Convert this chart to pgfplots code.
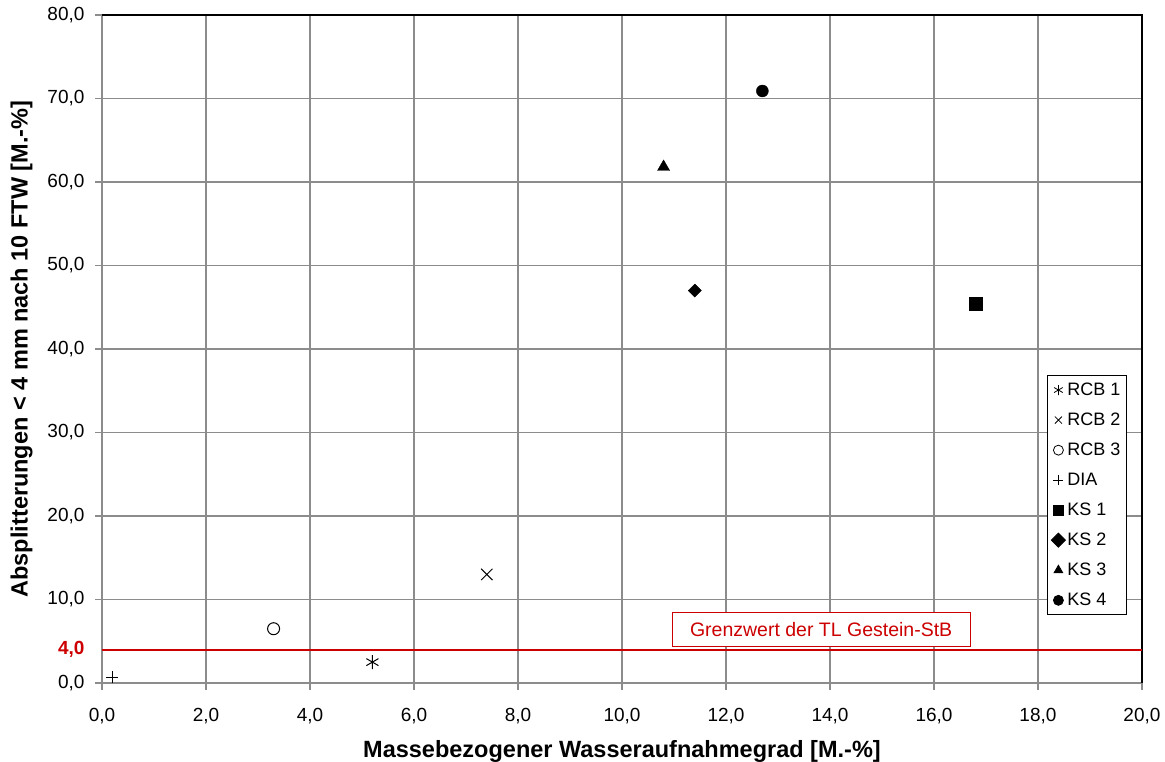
\documentclass[border=0pt]{standalone}
\usepackage{pgfplots}
\pgfplotsset{compat=1.18}
\usepackage{fontspec}
\setmainfont{Liberation Sans}
\definecolor{gridgray}{RGB}{140,140,140}
\definecolor{limred}{RGB}{204,0,0}
\begin{document}
\begin{tikzpicture}
\begin{axis}[
  at={(0pt,0pt)}, anchor=origin,
  scale only axis, width=1040pt, height=668pt,
  xmin=0, xmax=20, ymin=0, ymax=80,
  xtick={0,2,...,20}, ytick={0,10,...,80},
  grid=major, major grid style={gridgray, line width=1.2pt},
  axis line style={gridgray, line width=1.4pt},
  tick style={gridgray, line width=1.2pt},
  tick align=outside, major tick length=7pt,
  xtick pos=bottom, ytick pos=left,
  /pgf/number format/assume math mode=true,
  /pgf/number format/.cd, fixed, fixed zerofill, precision=1, use comma, /pgfplots/.cd,
  tick label style={font=\fontsize{19}{22}\selectfont},
  xticklabel style={yshift=-15pt},
  yticklabel style={xshift=-7pt},
  xlabel={\bfseries Massebezogener Wasseraufnahmegrad [M.-\%]},
  ylabel={\bfseries Absplitterungen < 4 mm nach 10 FTW [M.-\%]},
  label style={font=\fontsize{23.5}{27}\selectfont},
  xlabel style={yshift=-9pt},
  ylabel style={yshift=-6pt},
  extra y ticks={4}, extra y tick labels={\bfseries 4{,}0},
  extra y tick style={grid=none, tick style={draw=none}, yticklabel style={text=limred}},
  legend style={at={(0.9856,0.102)}, anchor=south east, draw=black, line width=1pt,
    font=\fontsize{18}{21}\selectfont, row sep=12pt, inner xsep=4pt, inner ysep=5pt},
  legend cell align=left,
  legend image post style={line width=0.8pt, mark size=5pt},
  clip=false,
]
\draw[black, line width=1.4pt] (rel axis cs:0,1) -- (rel axis cs:1,1) -- (rel axis cs:1,0);
\addplot[only marks, mark=asterisk, mark size=7pt, line width=1pt, black] coordinates {(5.2,2.5)};
\addlegendentry{RCB 1}
\addplot[only marks, mark=x, mark size=8pt, line width=1pt, black] coordinates {(7.4,13.0)};
\addlegendentry{RCB 2}
\addplot[only marks, mark=o, mark size=6pt, line width=1pt, black] coordinates {(3.3,6.5)};
\addlegendentry{RCB 3}
\addplot[only marks, mark=+, mark size=6pt, line width=1pt, black] coordinates {(0.2,0.7)};
\addlegendentry{DIA}
\addplot[only marks, mark=square*, mark size=6.5pt, black] coordinates {(16.8,45.4)};
\addlegendentry{KS 1}
\addplot[only marks, mark=square*, mark size=4.6pt, mark options={rotate=45}, black] coordinates {(11.4,47.0)};
\addlegendentry{KS 2}
\addplot[only marks, mark=triangle*, mark size=7pt, black] coordinates {(10.8,61.8)};
\addlegendentry{KS 3}
\addplot[only marks, mark=*, mark size=6pt, black] coordinates {(12.7,70.9)};
\addlegendentry{KS 4}
\addplot[limred, line width=2pt, forget plot] coordinates {(0,4) (20,4)};
\node[draw=limred, line width=1pt, fill=white, text=limred, font=\fontsize{19.5}{22}\selectfont,
  minimum width=298pt, minimum height=34pt, inner sep=0pt] at (axis cs:13.83,6.35) {Grenzwert der TL Gestein-StB};
\end{axis}
\pgfresetboundingbox
\path (-102pt,-79pt) rectangle (1063pt,683pt);
\end{tikzpicture}
\end{document}
